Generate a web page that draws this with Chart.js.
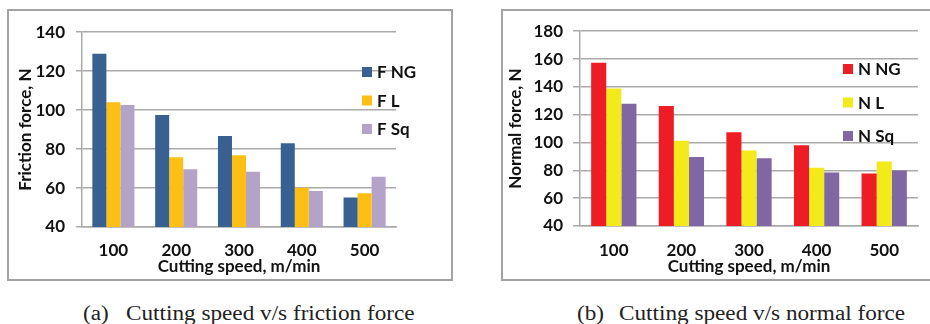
<!DOCTYPE html>
<html>
<head>
<meta charset="utf-8">
<script src="https://cdn.jsdelivr.net/npm/chart.js@4/dist/chart.umd.min.js"></script>
<style>
  html, body { margin: 0; padding: 0; background: #fff; width: 930px; height: 324px; overflow: hidden; position: relative; }
  .panel { position: absolute; top: 9px; height: 272px; border: 2px solid #a3a3a3; box-sizing: border-box; background: #fff; }
  .panel canvas { display: block; }
  #panelA { left: 7px; width: 446px; }
  #panelB { left: 501px; width: 440px; }
  .cap { position: absolute; top: 302px; font-family: "Liberation Serif", "DejaVu Serif", serif; font-size: 20px; line-height: 22px; color: #222; white-space: pre; transform-origin: left center; transform: scaleX(1.16); }
</style>
</head>
<body>
<div class="panel" id="panelA"><canvas id="frictionChart" width="442" height="268"></canvas></div>
<div class="panel" id="panelB"><canvas id="normalChart" width="436" height="268"></canvas></div>
<div class="cap" style="left:83px">(a)</div>
<div class="cap" style="left:126px">Cutting speed v/s friction force</div>
<div class="cap" style="left:577px">(b)</div>
<div class="cap" style="left:619px">Cutting speed v/s normal force</div>

<script>
// --- data ---
const speeds = ['100', '200', '300', '400', '500'];

// (a) friction force, N
const frictionNG = [129, 97.5, 86.7, 83, 55.2];
const frictionL = [104, 75.8, 76.8, 60.1, 57.3];
const frictionSq = [102.6, 69.7, 68.4, 58.5, 65.8];

// (b) normal force, N
const normalNG = [157.4, 126.2, 107.4, 98.1, 77.8];
const normalL = [138.9, 101.3, 94.2, 81.8, 86.3];
const normalSq = [127.8, 89.6, 88.7, 78.5, 79.9];

const FONT = 'Lato, "Open Sans", sans-serif';
const GRID = '#aaaaaa';

// legend drawn inside the plot, like the spreadsheet original
const boxLegend = {
  id: 'boxLegend',
  afterDraw(chart, args, opts) {
    const ctx = chart.ctx;
    ctx.save();
    ctx.font = 'bold 17px ' + FONT;
    ctx.textBaseline = 'middle';
    chart.data.datasets.forEach((ds, i) => {
      const y = opts.y + i * opts.gap;
      ctx.fillStyle = ds.backgroundColor;
      ctx.fillRect(opts.x, y - 5, 10, 10);
      ctx.fillStyle = '#111';
      ctx.fillText(ds.label, opts.x + 15, y + 1);
    });
    ctx.restore();
  }
};

function makeChart(id, series, yMax, yTitle, lay) {
  const ctx = document.getElementById(id).getContext('2d');
  return new Chart(ctx, {
    type: 'bar',
    data: {
      labels: speeds,
      datasets: series.map(s => ({
        label: s.label,
        data: s.data,
        backgroundColor: s.color,
        borderWidth: 0,
        categoryPercentage: 0.67,
        barPercentage: 1.0
      }))
    },
    options: {
      responsive: false,
      animation: false,
      layout: { padding: { left: 0, right: lay.right, top: lay.top, bottom: 0 } },
      plugins: {
        legend: { display: false },
        tooltip: { enabled: false },
        boxLegend: lay.legend
      },
      scales: {
        x: {
          afterFit: s => { s.height = lay.xHeight; },
          grid: { display: false, drawTicks: false },
          border: { display: true, color: GRID, width: 1.5 },
          ticks: { color: '#111', font: { family: FONT, size: 17, weight: 'bold' }, padding: lay.xPad },
          title: {
            display: true,
            text: 'Cutting speed, m/min',
            color: '#111',
            font: { family: FONT, size: 17, weight: 'bold' },
            padding: { top: 0, bottom: 2 }
          }
        },
        y: {
          min: 40,
          max: yMax,
          afterFit: s => { s.width = lay.yWidth; },
          grid: { color: GRID, lineWidth: 1.5, tickLength: lay.tick, tickColor: GRID },
          border: { display: true, color: GRID, width: 1.5 },
          ticks: { stepSize: 20, color: '#111', font: { family: FONT, size: 17, weight: 'bold' }, padding: lay.yPad },
          title: {
            display: true,
            text: yTitle,
            color: '#111',
            font: { family: FONT, size: 17, weight: 'bold' },
            padding: { top: lay.yTitlePad, bottom: 0 }
          }
        }
      }
    },
    plugins: [boxLegend]
  });
}

makeChart('frictionChart', [
  { label: 'F NG', data: frictionNG, color: '#386192' },
  { label: 'F L', data: frictionL, color: '#FDBF14' },
  { label: 'F Sq', data: frictionSq, color: '#B3A3C8' }
], 140, 'Friction force, N', {
  right: 55, top: 12, xHeight: 52, yWidth: 73, tick: 6, yPad: 11, xPad: 13, yTitlePad: 6,
  legend: { x: 353, y: 61, gap: 28.5 }
});

makeChart('normalChart', [
  { label: 'N NG', data: normalNG, color: '#EE1C25' },
  { label: 'N L', data: normalL, color: '#F2EA1A' },
  { label: 'N Sq', data: normalSq, color: '#8066A3' }
], 180, 'Normal force, N', {
  right: 21, top: 12, xHeight: 53, yWidth: 77, tick: 7, yPad: 10, xPad: 14, yTitlePad: 2,
  legend: { x: 340, y: 58, gap: 33.5 }
});
</script>
</body>
</html>
